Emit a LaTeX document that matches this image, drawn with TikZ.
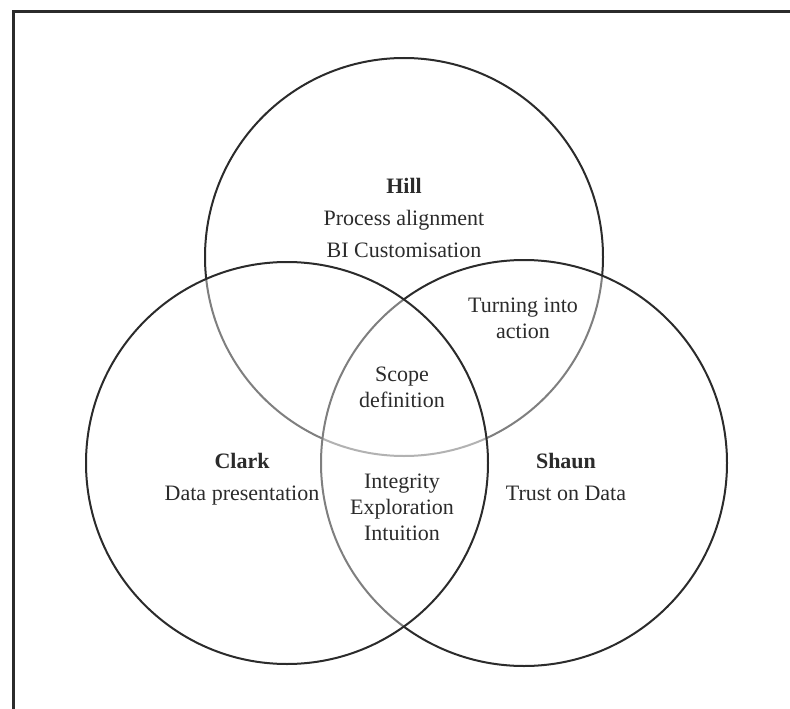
\documentclass[tikz,border=0pt]{standalone}
\usepackage{fontspec}
\setmainfont{Liberation Serif}
\definecolor{ink}{HTML}{2B2B2B}
\begin{document}
\begin{tikzpicture}[x=1pt,y=-1pt,
  ring/.style={circle, draw=ink, line width=2pt, fill=white, fill opacity=0.4,
               draw opacity=1, inner sep=0pt, outer sep=0pt},
  label/.style={text=ink, align=center, inner sep=0pt, anchor=base},
  wide/.style={font=\fontsize{22}{32}\selectfont},
  tight/.style={font=\fontsize{22}{26}\selectfont}]
  \useasboundingbox (0,0) rectangle (790,709);
  % frame edges (top and left)
  \draw[ink, line width=2.6pt] (13.3,709) -- (13.3,11.5) -- (790,11.5);
  % the three sets; each white veil lightens the outlines beneath it
  \node[ring, minimum size=398pt] (hill)  at (404,257) {};
  \node[ring, minimum size=406pt] (shaun) at (524,463) {};
  \node[ring, minimum size=402pt] (clark) at (287,463) {};
  % set labels (positioned by the baseline of their last line)
  \node[label, wide] (hilltxt)  at (404,257) {\textbf{Hill}\\Process alignment\\BI Customisation};
  \node[label, wide] (clarktxt) at (242,500) {\textbf{Clark}\\Data presentation};
  \node[label, wide] (shauntxt) at (566,500) {\textbf{Shaun}\\Trust on Data};
  % intersection labels
  \node[label, tight] (hs)  at (523,338) {Turning into\\action};
  \node[label, tight] (hcs) at (402,407) {Scope\\definition};
  \node[label, tight] (cs)  at (402,540) {Integrity\\Exploration\\Intuition};
\end{tikzpicture}
\end{document}
